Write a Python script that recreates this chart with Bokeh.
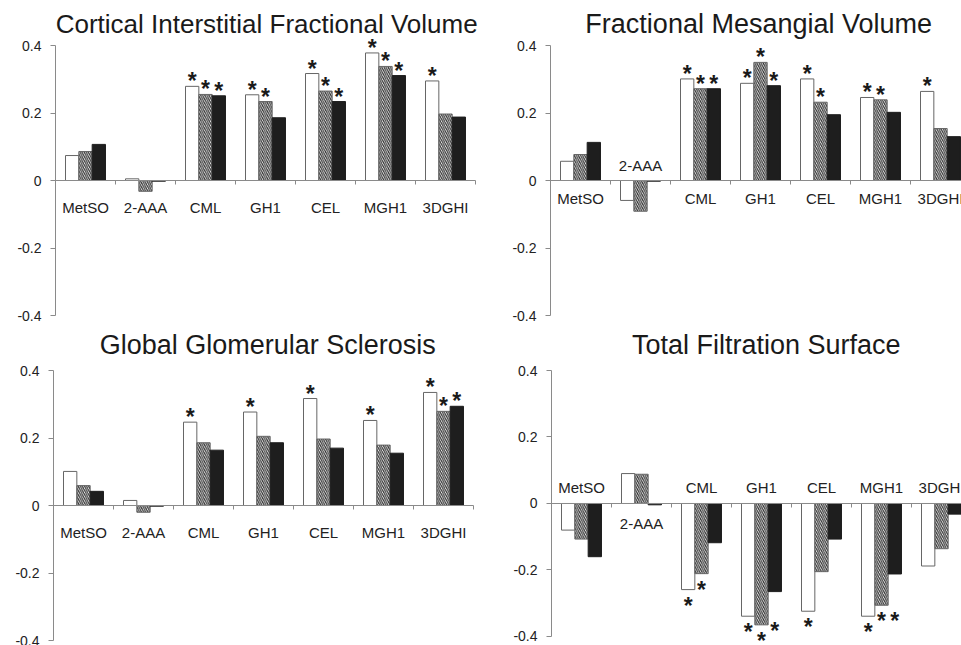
import numpy as np
from bokeh.plotting import figure
from bokeh.layouts import column, row
from bokeh.models import (LinearAxis, FixedTicker, CustomJSTickFormatter, Range1d,
                          ColumnDataSource)
from bokeh.core.properties import value
from bokeh.embed import file_html
from bokeh.resources import INLINE

categories = ["MetSO", "2-AAA", "CML", "GH1", "CEL", "MGH1", "3DGHI"]
y_ticks = [-0.4, -0.2, 0, 0.2, 0.4]

# Cortical Interstitial Fractional Volume
civ_white = [0.074, 0.005, 0.279, 0.254, 0.317, 0.378, 0.295]
civ_hatched = [0.086, -0.032, 0.255, 0.234, 0.265, 0.338, 0.197]
civ_black = [0.107, -0.002, 0.251, 0.186, 0.234, 0.311, 0.188]
civ_star_white = [0, 0, 1, 1, 1, 1, 1]
civ_star_hatched = [0, 0, 1, 1, 1, 1, 0]
civ_star_black = [0, 0, 1, 0, 1, 1, 0]

# Fractional Mesangial Volume
fmv_white = [0.057, -0.059, 0.301, 0.288, 0.301, 0.246, 0.264]
fmv_hatched = [0.077, -0.091, 0.272, 0.350, 0.232, 0.239, 0.154]
fmv_black = [0.113, -0.002, 0.272, 0.281, 0.195, 0.202, 0.130]
fmv_star_white = [0, 0, 1, 1, 1, 1, 1]
fmv_star_hatched = [0, 0, 1, 1, 1, 1, 0]
fmv_star_black = [0, 0, 1, 1, 0, 0, 0]

# Global Glomerular Sclerosis
ggs_white = [0.101, 0.015, 0.247, 0.277, 0.317, 0.252, 0.335]
ggs_hatched = [0.059, -0.020, 0.186, 0.205, 0.197, 0.179, 0.279]
ggs_black = [0.042, -0.002, 0.164, 0.186, 0.170, 0.155, 0.294]
ggs_star_white = [0, 0, 1, 1, 1, 1, 1]
ggs_star_hatched = [0, 0, 0, 0, 0, 0, 1]
ggs_star_black = [0, 0, 0, 0, 0, 0, 1]

# Total Filtration Surface
tfs_white = [-0.080, 0.090, -0.259, -0.339, -0.324, -0.339, -0.188]
tfs_hatched = [-0.107, 0.088, -0.211, -0.365, -0.205, -0.306, -0.136]
tfs_black = [-0.160, -0.004, -0.118, -0.265, -0.107, -0.212, -0.032]
tfs_star_white = [0, 0, 1, 1, 1, 1, 0]
tfs_star_hatched = [0, 0, 1, 1, 0, 1, 0]
tfs_star_black = [0, 0, 0, 1, 0, 1, 0]
tfs_star_black_level = [None, None, None, -0.335, None, -0.305, None]

FONT = "Liberation Sans"
BW = 0.2222
OFFSETS = [-BW, 0.0, BW]


def star_source(vals, flags, offset, levels=None):
    xs, ys, offs = [], [], []
    for i, (v, f) in enumerate(zip(vals, flags)):
        if f:
            a = v if (levels is None or levels[i] is None) else levels[i]
            xs.append(i + 0.5 + offset)
            ys.append(a)
            offs.append(-5 if v > 0 else 16)
    return ColumnDataSource(dict(x=xs, y=ys, yoff=offs))


def make_panel(title, white, hatched, black, sw, sh, sb, label_side,
               border_left, frame_w, ylo, yhi, frame_h, title_x, title_y, title_size,
               lab_above, lab_below, sb_levels=None):
    p = figure(frame_width=frame_w, frame_height=frame_h,
               x_range=Range1d(0, frame_w / 60.0), y_range=Range1d(ylo, yhi),
               output_backend="svg", toolbar_location=None, x_axis_type=None,
               min_border_left=border_left, min_border_right=0,
               min_border_top=6, min_border_bottom=0)
    p.outline_line_color = None
    p.xgrid.visible = False
    p.ygrid.visible = False
    p.background_fill_color = "white"
    p.border_fill_color = "white"

    yax = p.yaxis[0]
    yax.ticker = FixedTicker(ticks=y_ticks)
    yax.formatter = CustomJSTickFormatter(code="return tick == 0 ? '0' : tick.toFixed(1);")
    yax.bounds = (-0.4, 0.4)
    yax.axis_line_color = "#8a8a8a"
    yax.major_tick_line_color = "#8a8a8a"
    yax.major_tick_out = 5
    yax.major_tick_in = 0
    yax.minor_tick_line_color = None
    yax.major_label_standoff = 9
    yax.major_label_text_font = FONT
    yax.major_label_text_font_size = "14px"
    yax.major_label_text_color = "#222222"

    xax = LinearAxis(fixed_location=0, ticker=FixedTicker(ticks=list(range(8))),
                     bounds=(0, 7),
                     formatter=CustomJSTickFormatter(code="return '';"))
    xax.axis_line_color = "#8a8a8a"
    xax.major_tick_line_color = "#8a8a8a"
    xax.major_tick_in = 4
    xax.major_tick_out = 0
    xax.minor_tick_line_color = None
    xax.major_label_standoff = 0
    p.add_layout(xax, "above")

    cx = np.arange(len(categories)) + 0.5
    p.vbar(x=cx + OFFSETS[0], top=white, bottom=0, width=BW,
           fill_color="white", line_color="#666666", line_width=1)
    p.vbar(x=cx + OFFSETS[1], top=hatched, bottom=0, width=BW,
           fill_color="white", line_color="#666666", line_width=1,
           hatch_pattern="\\", hatch_color="#333333", hatch_scale=4.2, hatch_weight=1.2)
    p.vbar(x=cx + OFFSETS[2], top=black, bottom=0, width=BW,
           fill_color="#1e1e1e", line_color="#1e1e1e", line_width=1)

    # category labels
    ly = [lab_above if s > 0 else lab_below for s in label_side]
    p.text(x=cx, y=ly, text=categories, text_font=value(FONT), text_font_size="15px",
           text_align="center", text_baseline="middle", text_color="#222222")

    # significance stars
    for vals, flags, off, lev in ((white, sw, OFFSETS[0], None),
                                  (hatched, sh, OFFSETS[1], None),
                                  (black, sb, OFFSETS[2], sb_levels)):
        src = star_source(vals, flags, off, lev)
        p.text(x="x", y="y", y_offset="yoff", text=value("*"), source=src,
               text_font=value(FONT), text_font_size="23px", text_font_style="bold",
               text_align="center", text_baseline="alphabetic", text_color="#1a1a1a")

    # title
    p.text(x=[title_x], y=[title_y], text=[title], text_font=value(FONT),
           text_font_size=title_size, text_align="center", text_baseline="alphabetic",
           text_color="#1a1a1a")
    return p


below_all = [-1] * 7
p1 = make_panel("Cortical Interstitial Fractional Volume", civ_white, civ_hatched, civ_black,
                civ_star_white, civ_star_hatched, civ_star_black, below_all,
                55, 425, -0.4296, 0.5156, 319, 3.52, 0.463, "26px", 0.0, -0.081)
p2 = make_panel("Fractional Mesangial Volume", fmv_white, fmv_hatched, fmv_black,
                fmv_star_white, fmv_star_hatched, fmv_star_black,
                [-1, 1, -1, -1, -1, -1, -1],
                70, 411, -0.4296, 0.5156, 319, 3.47, 0.463, "27px", 0.044, -0.054)
p3 = make_panel("Global Glomerular Sclerosis", ggs_white, ggs_hatched, ggs_black,
                ggs_star_white, ggs_star_hatched, ggs_star_black, below_all,
                53, 427, -0.4148, 0.5156, 314, 3.57, 0.476, "27px", 0.0, -0.079)
p4 = make_panel("Total Filtration Surface", tfs_white, tfs_hatched, tfs_black,
                tfs_star_white, tfs_star_hatched, tfs_star_black,
                [1, -1, 1, 1, 1, 1, 1],
                71, 410, -0.4271, 0.5173, 314, 3.58, 0.476, "27px", 0.049, -0.060,
                sb_levels=tfs_star_black_level)

layout = column(row(p1, p2, spacing=0), row(p3, p4, spacing=0), spacing=0)

open("out.html", "w").write(file_html(layout, INLINE))
